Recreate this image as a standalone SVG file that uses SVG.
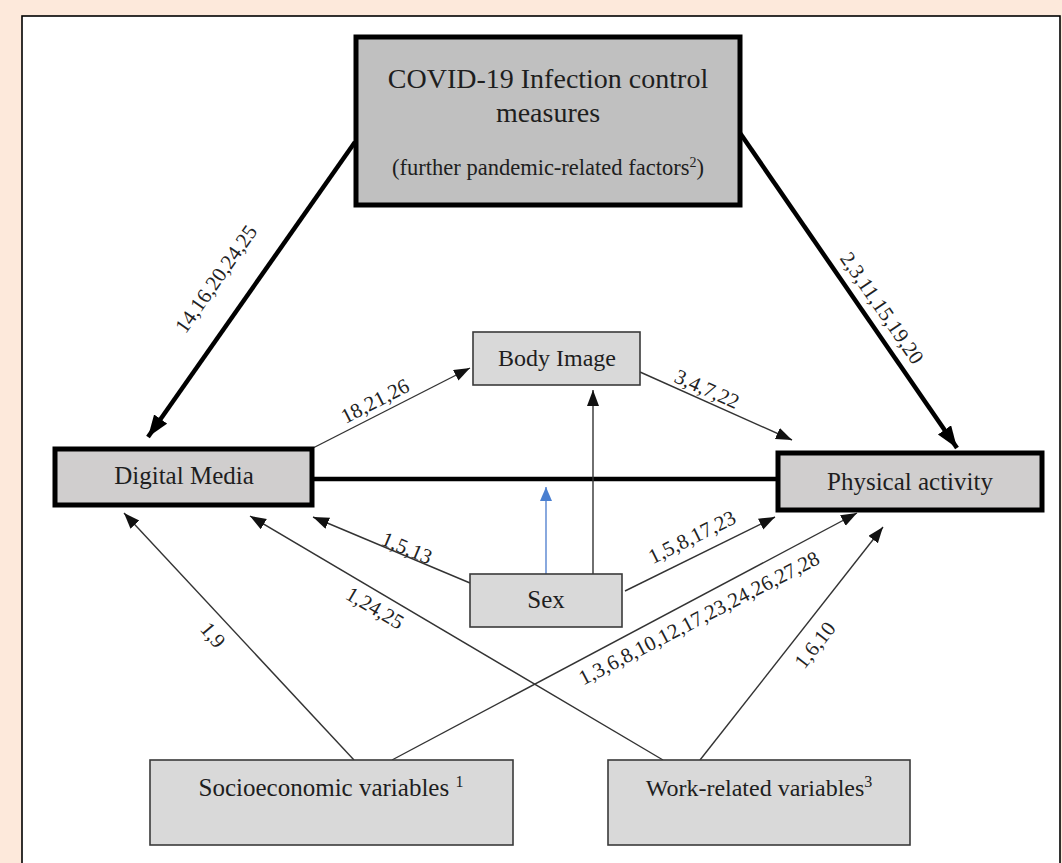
<svg xmlns="http://www.w3.org/2000/svg" width="1062" height="863" viewBox="0 0 1062 863">
<defs>
<style>
.t{font-family:"Liberation Serif","Times New Roman",serif;fill:#1e1e1e;text-anchor:middle}
.lbl{font-family:"Liberation Serif","Times New Roman",serif;font-size:21px;fill:#222;text-anchor:middle}
.thick{stroke:#000;stroke-width:4.5;fill:none}
.thin{stroke:#333;stroke-width:1.4;fill:none}
.bigbox{fill:#c0c0c0;stroke:#000;stroke-width:5}
.mainbox{fill:#d0cece;stroke:#000;stroke-width:5}
.box{fill:#d9d9d9;stroke:#3a3a3a;stroke-width:1.6}
</style>
<marker id="ahBig" markerUnits="userSpaceOnUse" markerWidth="24" markerHeight="18" refX="22" refY="8" orient="auto"><path d="M0,0 L22,8 L0,16 z" fill="#000"/></marker>
<marker id="ah" markerUnits="userSpaceOnUse" markerWidth="18" markerHeight="14" refX="16" refY="6" orient="auto"><path d="M0,0 L16,6 L0,12 z" fill="#111"/></marker>
<marker id="ahBlue" markerUnits="userSpaceOnUse" markerWidth="18" markerHeight="14" refX="14" refY="6" orient="auto"><path d="M0,0 L14,6 L0,12 z" fill="#4a7fd0"/></marker>
</defs>
<rect x="0" y="0" width="1062" height="863" fill="#fde9db"/>
<rect x="22" y="16" width="1038" height="860" fill="#fff" stroke="#000" stroke-width="1.6"/>

<g id="connectors">
<line class="thick" x1="355" y1="142" x2="148" y2="437" marker-end="url(#ahBig)"/>
<line class="thick" x1="740" y1="133" x2="957" y2="448" marker-end="url(#ahBig)"/>
<line class="thick" x1="312" y1="479" x2="778" y2="479"/>
<line class="thin" x1="313" y1="448" x2="470" y2="368" marker-end="url(#ah)"/>
<line class="thin" x1="640" y1="372" x2="792" y2="440" marker-end="url(#ah)"/>
<line class="thin" x1="593" y1="574" x2="593" y2="390" marker-end="url(#ah)"/>
<line x1="546" y1="574" x2="546" y2="487" stroke="#6b93d6" stroke-width="1.6" marker-end="url(#ahBlue)"/>
<line class="thin" x1="470" y1="583" x2="313" y2="517" marker-end="url(#ah)"/>
<line class="thin" x1="625" y1="591" x2="775" y2="517" marker-end="url(#ah)"/>
<line class="thin" x1="354" y1="760" x2="124" y2="513" marker-end="url(#ah)"/>
<line class="thin" x1="392" y1="760" x2="857" y2="513" marker-end="url(#ah)"/>
<line class="thin" x1="663" y1="760" x2="250" y2="516" marker-end="url(#ah)"/>
<line class="thin" x1="700" y1="760" x2="883" y2="527" marker-end="url(#ah)"/>
<text class="lbl" transform="translate(216,279) rotate(-54.9)" y="7">14,16,20,24,25</text>
<text class="lbl" transform="translate(882,308) rotate(55.4)" y="7">2,3,11,15,19,20</text>
<text class="lbl" transform="translate(375,401) rotate(-27)" y="7">18,21,26</text>
<text class="lbl" transform="translate(707,389) rotate(24)" y="7">3,4,7,22</text>
<text class="lbl" transform="translate(407,548) rotate(22.8)" y="7">1,5,13</text>
<text class="lbl" transform="translate(375,608) rotate(30.6)" y="7">1,24,25</text>
<text class="lbl" transform="translate(213,635) rotate(50)" y="7">1,9</text>
<text class="lbl" transform="translate(692,537) rotate(-26.3)" y="7">1,5,8,17,23</text>
<text class="lbl" transform="translate(699,618) rotate(-27.3)" y="7">1,3,6,8,10,12,17,23,24,26,27,28</text>
<text class="lbl" transform="translate(815,645) rotate(-51.9)" y="7">1,6,10</text>
</g>

<g id="covid">
<rect class="bigbox" x="356" y="37" width="384" height="168"/>
<text class="t" x="548" y="88" font-size="28">COVID-19 Infection control</text>
<text class="t" x="548" y="122" font-size="28">measures</text>
<text class="t" x="548" y="175" font-size="22.5">(further pandemic-related factors<tspan dy="-8" font-size="14">2</tspan><tspan dy="8">)</tspan></text>
</g>

<g id="body-image">
<rect class="box" x="473" y="332" width="167" height="53"/>
<text class="t" x="557" y="366" font-size="24">Body Image</text>
</g>

<g id="digital-media">
<rect class="mainbox" x="55" y="449" width="257" height="56"/>
<text class="t" x="184" y="484" font-size="25">Digital Media</text>
</g>

<g id="physical-activity">
<rect class="mainbox" x="778" y="453" width="264" height="57"/>
<text class="t" x="910" y="490" font-size="25">Physical activity</text>
</g>

<g id="sex">
<rect class="box" x="470" y="574" width="152" height="53"/>
<text class="t" x="546" y="608" font-size="25">Sex</text>
</g>

<g id="socioeconomic">
<rect class="box" x="150" y="760" width="363" height="85"/>
<text class="t" x="331" y="796" font-size="25">Socioeconomic variables <tspan dy="-9" font-size="16">1</tspan></text>
</g>

<g id="work-related">
<rect class="box" x="608" y="760" width="302" height="85"/>
<text class="t" x="759" y="796" font-size="24">Work-related variables<tspan dy="-9" font-size="16">3</tspan></text>
</g>
</svg>
